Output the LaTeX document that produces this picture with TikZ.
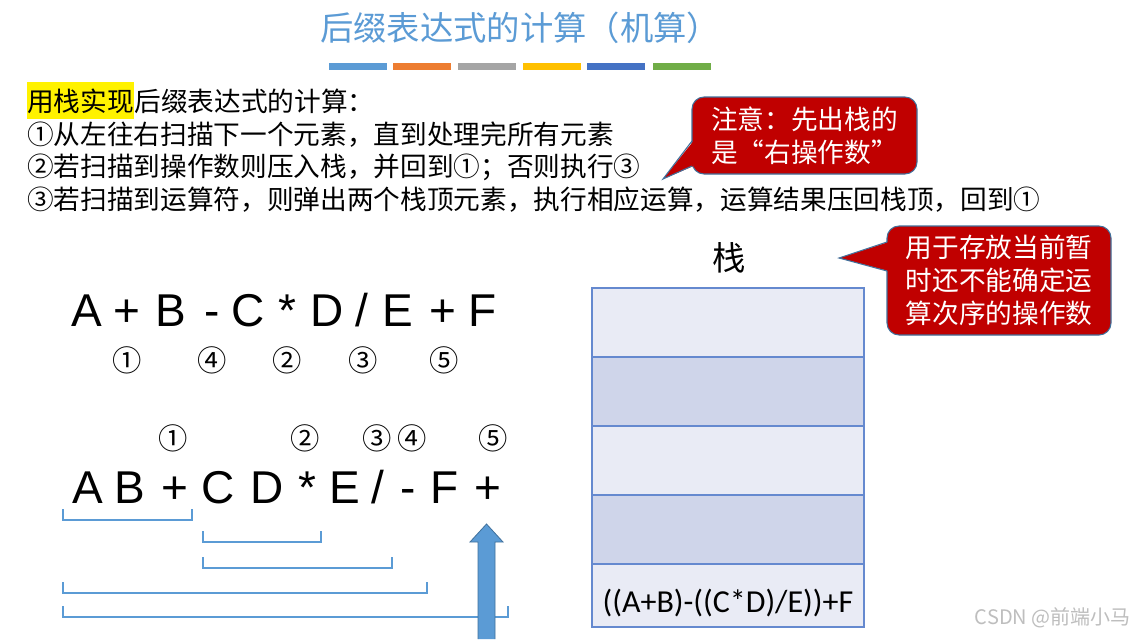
\documentclass[tikz,border=0pt]{standalone}
\usepackage{fontspec}
\setmainfont{Liberation Sans}
\newfontfamily\cjk{Noto Sans CJK SC}
\newfontfamily\calib{Carlito}
\usetikzlibrary{positioning, calc}

\definecolor{titleblue}{RGB}{91,155,213}
\definecolor{barorange}{RGB}{237,125,49}
\definecolor{bargray}{RGB}{165,165,165}
\definecolor{baryellow}{RGB}{255,192,0}
\definecolor{bardarkblue}{RGB}{68,114,196}
\definecolor{bargreen}{RGB}{112,173,71}
\definecolor{calloutred}{RGB}{192,0,0}
\definecolor{calloutedge}{RGB}{65,113,156}
\definecolor{stacklight}{RGB}{233,235,245}
\definecolor{stackdark}{RGB}{207,213,234}
\definecolor{stackedge}{RGB}{101,137,207}
\definecolor{markgray}{RGB}{190,190,190}

\tikzset{
  titletext/.style={inner sep=0pt, text=titleblue, font=\cjk\fontsize{25}{30}\selectfont},
  bodytext/.style={anchor=base west, inner sep=0pt, font=\cjk\fontsize{20}{24}\selectfont},
  notebox/.style={fill=calloutred, draw=calloutedge, line width=0.8pt, rounded corners=9pt,
    text=white, align=left, inner sep=0pt, font=\cjk\fontsize{20}{24.5}\selectfont},
  bigsym/.style={anchor=base, inner sep=0pt, font=\fontsize{34.5}{40}\selectfont},
  circnum/.style={inner sep=0pt, font=\cjk\fontsize{22}{24}\selectfont},
  stackcell/.style={draw=stackedge, line width=0.9pt, minimum width=204pt, minimum height=51.75pt, inner sep=0pt},
  bracket/.style={draw=titleblue, line width=1.1pt},
  watermark/.style={anchor=east, inner sep=0pt, text=markgray, font=\cjk\fontsize{15}{18}\selectfont}
}

\begin{document}
\begin{tikzpicture}[x=0.75pt, y=-0.75pt]
  \useasboundingbox (0,0) rectangle (1137,639);
  \fill[white] (0,0) rectangle (1137,639);

  % title and colour bars
  \node[titletext] (title) at (520,28) {后缀表达式的计算（机算）};
  \foreach \xx/\c in {329/titleblue, 393/barorange, 458/bargray, 523/baryellow, 587/bardarkblue, 653/bargreen}
    \fill[\c] (\xx,63) rectangle ++(58,7);

  % rules
  \node[bodytext, fill=yellow, inner ysep=4.5pt] (hl) at (27,111) {用栈实现};
  \node[bodytext] (line1) at (hl.base east) {后缀表达式的计算：};
  \node[bodytext] (line2) at (27,144) {①从左往右扫描下一个元素，直到处理完所有元素};
  \node[bodytext] (line3) at (27,176) {②若扫描到操作数则压入栈，并回到①；否则执行③};
  \node[bodytext] (line4) at (27,209) {③若扫描到运算符，则弹出两个栈顶元素，执行相应运算，运算结果压回栈顶，回到①};

  % callouts
  \node[notebox, minimum width=168.75pt, minimum height=57.75pt] (noteA) at (804.5,135.5) {注意：先出栈的\\是“右操作数”};
  \coordinate (tipA) at (663,179);
  \fill[calloutred] (693.5,141) -- (tipA) -- (693.5,166) -- cycle;
  \draw[calloutedge, line width=0.8pt] (692,141) -- (tipA) -- (692,166);

  \node[notebox, minimum width=168pt, minimum height=81.75pt] (noteB) at (999,280.5) {用于存放当前暂\\时还不能确定运\\算次序的操作数};
  \coordinate (tipB) at (839,258);
  \fill[calloutred] (888.5,242) -- (tipB) -- (888.5,271) -- cycle;
  \draw[calloutedge, line width=0.8pt] (887,242) -- (tipB) -- (887,271);

  % stack
  \node[inner sep=0pt, font=\cjk\fontsize{25}{28}\selectfont] (stacklabel) at (729,258) {栈};
  \foreach \i/\c in {1/stacklight, 2/stackdark, 3/stacklight, 4/stackdark}
    \node[stackcell, fill=\c] (row\i) at (728,253.5+69*\i) {};
  \node[stackcell, fill=stacklight, minimum height=47.25pt] (row5) at (728,595.5) {};
  \node[inner sep=0pt, font=\calib\fontsize{24}{28}\selectfont] (bottomitem) at ($(row5.center)+(0,8)$) {((A+B)-((C*D)/E))+F};

  % infix expression
  \foreach \ch/\xx [count=\k] in {A/87, +/127, B/171, -/212, C/248, */287, D/327, {/}/362, E/398, +/443, F/483}
    \node[bigsym] (in\k) at (\xx,326) {\ch};
  \foreach \num/\xx [count=\k] in {①/127, ④/212, ②/287, ③/363, ⑤/444}
    \node[circnum] (inorder\k) at (\xx,360) {\num};

  % postfix expression
  \foreach \ch/\xx [count=\k] in {A/88, B/130, +/175, C/218, D/267, */307, E/345, {/}/378, -/408, F/445, +/488}
    \node[bigsym] (post\k) at (\xx,503) {\ch};
  \foreach \num/\xx [count=\k] in {①/173, ②/305, ③/377, ④/412, ⑤/493}
    \node[circnum] (postorder\k) at (\xx,438) {\num};

  % brackets under the postfix expression
  \foreach \xa/\xb/\yt in {63/192/509, 203/321/531, 203/392/557, 63/427/582, 63/508/606}
    \draw[bracket] (\xa,\yt) -- (\xa,\yt+11) -- (\xb,\yt+11) -- (\xb,\yt);

  % scan pointer
  \fill[titleblue, draw=calloutedge, line width=0.6pt] (478,639) -- (478,542) -- (470,542) -- (486.5,524)
    -- (503,542) -- (495,542) -- (495,639);

  \node[watermark] (mark) at (1131,618) {CSDN @前端小马};
\end{tikzpicture}
\end{document}
